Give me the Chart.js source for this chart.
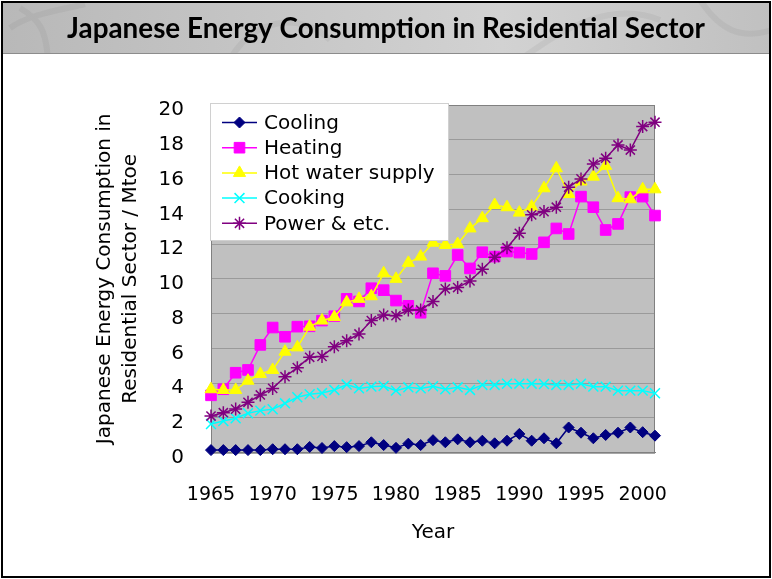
<!DOCTYPE html>
<html>
<head>
<meta charset="utf-8">
<title>Japanese Energy Consumption in Residential Sector</title>
<script src="https://cdn.jsdelivr.net/npm/chart.js@4.4.1/dist/chart.umd.min.js"></script>
<style>
  html, body { margin: 0; padding: 0; background: #fff; }
  canvas { display: block; }
</style>
</head>
<body>
<canvas id="energyChart" width="772" height="579"></canvas>
<script>
// Residential energy use by end use, Mtoe, 1965-2001
const years = [1965, 1966, 1967, 1968, 1969, 1970, 1971, 1972, 1973, 1974,
               1975, 1976, 1977, 1978, 1979, 1980, 1981, 1982, 1983, 1984,
               1985, 1986, 1987, 1988, 1989, 1990, 1991, 1992, 1993, 1994,
               1995, 1996, 1997, 1998, 1999, 2000, 2001];

const cooling = [0.15, 0.15, 0.15, 0.15, 0.15, 0.2, 0.2, 0.2, 0.33, 0.27,
                 0.38, 0.32, 0.38, 0.6, 0.44, 0.28, 0.52, 0.44, 0.72, 0.6,
                 0.77, 0.6, 0.69, 0.54, 0.69, 1.08, 0.69, 0.83, 0.54, 1.45,
                 1.15, 0.83, 1.02, 1.15, 1.45, 1.18, 0.98];

const heating = [3.3, 3.65, 4.6, 4.76, 6.2, 7.2, 6.67, 7.25, 7.27, 7.6,
                 7.85, 8.85, 8.7, 9.46, 9.35, 8.75, 8.45, 8.05, 10.32, 10.17,
                 11.37, 10.6, 11.53, 11.28, 11.57, 11.51, 11.43, 12.1, 12.9, 12.58,
                 14.73, 14.12, 12.81, 13.16, 14.7, 14.73, 13.64];

const hotWater = [3.65, 3.61, 3.61, 4.14, 4.53, 4.76, 5.81, 6.06, 7.25, 7.6,
                  7.8, 8.65, 8.85, 9.0, 10.32, 10.0, 10.92, 11.28, 12.08, 11.95,
                  12.0, 12.9, 13.49, 14.25, 14.12, 13.81, 14.15, 15.21, 16.36, 14.88,
                  15.6, 15.88, 16.5, 14.64, 14.58, 15.15, 15.15];

const cooking = [1.65, 1.82, 1.98, 2.27, 2.42, 2.5, 2.84, 3.19, 3.36, 3.43,
                 3.61, 3.92, 3.7, 3.8, 3.84, 3.57, 3.76, 3.7, 3.82, 3.65,
                 3.76, 3.61, 3.9, 3.9, 3.97, 3.97, 3.97, 3.95, 3.9, 3.9,
                 3.97, 3.8, 3.8, 3.57, 3.57, 3.57, 3.42];

const power = [2.11, 2.3, 2.51, 2.9, 3.32, 3.7, 4.37, 4.89, 5.49, 5.54,
               6.1, 6.44, 6.83, 7.6, 7.92, 7.88, 8.21, 8.21, 8.69, 9.42,
               9.5, 9.88, 10.55, 11.24, 11.79, 12.62, 13.68, 13.87, 14.12, 15.27,
               15.75, 16.6, 16.94, 17.7, 17.41, 18.76, 19.01];

const seriesNames = ['Cooling', 'Heating', 'Hot water supply', 'Cooking', 'Power & etc.'];
const yTicks = [0, 2, 4, 6, 8, 10, 12, 14, 16, 18, 20];

const TITLE = 'Japanese Energy Consumption in Residential Sector';
const FONT = "'DejaVu Sans', sans-serif";

function series(i, data, color, style, radius, width) {
  return {
    label: seriesNames[i],
    data: data,
    borderColor: color,
    backgroundColor: color,
    borderWidth: 1.5,
    pointStyle: style,
    pointRadius: radius,
    pointHoverRadius: radius,
    pointBorderWidth: width,
    pointBackgroundColor: color,
    pointBorderColor: color,
    tension: 0,
    clip: false,
    order: 5 - i   // later series are painted on top
  };
}

const datasets = [
  series(0, cooling, '#000080', 'rectRot', 5.5, 1),
  series(1, heating, '#FF00FF', 'rect', 7.5, 1),
  series(2, hotWater, '#FFFF00', 'triangle', 7, 1),
  series(3, cooking, '#00FFFF', 'crossRot', 7, 1.5),
  series(4, power, '#800080', 'star', 6.5, 1.5)
];

// slide background, title bar, plot fill and the boxed legend
const slidePlugin = {
  id: 'slide',
  beforeDraw(chart) {
    const ctx = chart.ctx;
    const W = chart.width, H = chart.height;
    const a = chart.chartArea;
    ctx.save();
    ctx.fillStyle = '#ffffff';
    ctx.fillRect(0, 0, W, H);

    // title bar
    const g = ctx.createLinearGradient(0, 0, W, 0);
    g.addColorStop(0, '#b8b8b8');
    g.addColorStop(0.35, '#c6c6c6');
    g.addColorStop(0.65, '#d2d2d2');
    g.addColorStop(1, '#c0c0c0');
    ctx.fillStyle = g;
    ctx.fillRect(2, 2, W - 4, 51);

    ctx.beginPath();
    ctx.rect(2, 2, W - 4, 51);
    ctx.clip();
    ctx.strokeStyle = 'rgba(90,90,90,0.08)';
    ctx.lineWidth = 6;
    ctx.beginPath();
    ctx.moveTo(20, 8); ctx.bezierCurveTo(40, 20, 46, 30, 48, 60);
    ctx.moveTo(10, 28); ctx.bezierCurveTo(30, 14, 60, 10, 85, 4);
    ctx.moveTo(230, 60); ctx.bezierCurveTo(250, 20, 300, 10, 330, 40);
    ctx.moveTo(520, 60); ctx.bezierCurveTo(560, 30, 610, 0, 660, 20);
    ctx.moveTo(700, 0); ctx.bezierCurveTo(720, 30, 740, 40, 772, 30);
    ctx.stroke();
    ctx.restore();

    ctx.save();
    ctx.strokeStyle = '#8c8c8c';
    ctx.lineWidth = 1;
    ctx.beginPath();
    ctx.moveTo(2, 53.5); ctx.lineTo(W - 2, 53.5);
    ctx.stroke();

    // slide frame
    ctx.strokeStyle = '#000000';
    ctx.lineWidth = 2;
    ctx.strokeRect(2, 2, W - 4, H - 4);

    // title text, sized to its box
    let size = 26;
    ctx.font = 'bold ' + size + "px Lato, 'Open Sans', sans-serif";
    const w = ctx.measureText(TITLE).width;
    size = size * 638 / w;
    ctx.font = 'bold ' + size.toFixed(2) + "px Lato, 'Open Sans', sans-serif";
    ctx.fillStyle = '#000000';
    ctx.textAlign = 'center';
    ctx.textBaseline = 'middle';
    ctx.fillText(TITLE, 386, 29);

    // plot area
    ctx.fillStyle = '#C0C0C0';
    ctx.fillRect(a.left, a.top, a.right - a.left, a.bottom - a.top);
    ctx.restore();
  },
  beforeDatasetsDraw(chart) {
    const ctx = chart.ctx;
    const a = chart.chartArea;
    ctx.save();
    ctx.strokeStyle = '#808080';
    ctx.lineWidth = 1;
    ctx.strokeRect(a.left + 0.5, a.top + 0.5, a.right - a.left - 1, a.bottom - a.top);
    ctx.restore();
  },
  afterDatasetsDraw(chart) {
    const ctx = chart.ctx;
    ctx.save();
    ctx.fillStyle = '#ffffff';
    ctx.fillRect(210, 103, 238, 137);
    ctx.strokeStyle = '#d0d0d0';
    ctx.lineWidth = 1;
    ctx.strokeRect(210.5, 103.5, 238, 137);

    ctx.font = '20px ' + FONT;
    ctx.textBaseline = 'middle';
    ctx.textAlign = 'left';
    datasets.forEach((ds, i) => {
      const y = 122.5 + i * 25.2;
      ctx.strokeStyle = ds.borderColor;
      ctx.lineWidth = ds.borderWidth;
      ctx.beginPath();
      ctx.moveTo(222, y);
      ctx.lineTo(257, y);
      ctx.stroke();
      ctx.fillStyle = ds.pointBackgroundColor;
      ctx.strokeStyle = ds.pointBorderColor;
      ctx.lineWidth = ds.pointBorderWidth;
      Chart.helpers.drawPoint(ctx, {
        pointStyle: ds.pointStyle,
        radius: ds.pointRadius,
        borderWidth: ds.pointBorderWidth,
        rotation: 0
      }, 239.5, y);
      ctx.fillStyle = '#000000';
      ctx.fillText(ds.label, 264, y + 1);
    });
    ctx.restore();
  }
};

new Chart(document.getElementById('energyChart'), {
  type: 'line',
  data: {
    labels: years.map(String),
    datasets: datasets
  },
  options: {
    responsive: false,
    animation: false,
    devicePixelRatio: 1,
    layout: { padding: { left: 0, top: 105, right: 117, bottom: 0 } },
    plugins: {
      legend: { display: false },
      tooltip: { enabled: false },
      title: { display: false }
    },
    scales: {
      x: {
        type: 'category',
        offset: false,
        grid: { display: false, drawTicks: false },
        border: { display: true, color: '#808080', width: 1 },
        ticks: {
          autoSkip: false,
          maxRotation: 0,
          padding: 31,
          color: '#000000',
          font: { family: FONT, size: 19 },
          callback: (v, i) => (years[i] % 5 === 0 ? String(years[i]) : '')
        },
        title: {
          display: true,
          text: 'Year',
          color: '#000000',
          font: { family: FONT, size: 20 },
          padding: { top: 0, bottom: 34 }
        },
        afterFit: (s) => { s.height = 126.3; }
      },
      y: {
        min: 0,
        max: 20,
        afterBuildTicks: (s) => { s.ticks = yTicks.map(v => ({ value: v })); },
        grid: { color: '#9a9a9a', lineWidth: 1, drawTicks: false },
        border: { display: true, color: '#808080', width: 1 },
        ticks: {
          padding: 27,
          labelOffset: 5,
          color: '#000000',
          font: { family: FONT, size: 20 }
        },
        title: {
          display: true,
          text: ['Japanese Energy Consumption in', 'Residential Sector / Mtoe'],
          color: '#000000',
          font: { family: FONT, size: 20, lineHeight: 1.3 },
          padding: { top: 92, bottom: 0 }
        },
        afterFit: (s) => { s.width = 211; }
      }
    }
  },
  plugins: [slidePlugin]
});
</script>
</body>
</html>
